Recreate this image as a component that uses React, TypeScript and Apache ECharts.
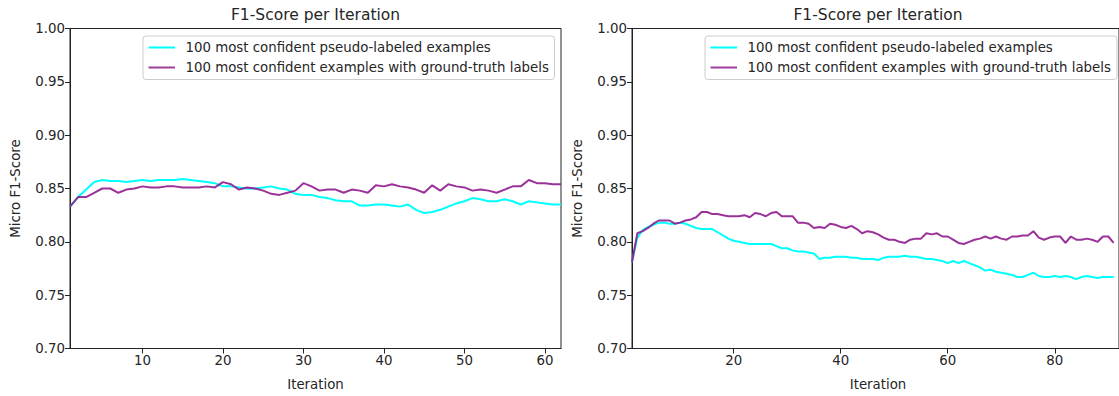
import React, { useEffect, useRef } from "react";
import * as echarts from "echarts";

const leftIterations = Array.from({ length: 62 }, (_, i) => i + 1);
const leftPseudo = [
  0.833, 0.842, 0.849, 0.856, 0.858, 0.857, 0.857, 0.856, 0.857, 0.858,
  0.857, 0.858, 0.858, 0.858, 0.859, 0.858, 0.857, 0.856, 0.855, 0.852,
  0.852, 0.851, 0.85, 0.85, 0.851, 0.852, 0.85, 0.849, 0.845, 0.844,
  0.844, 0.842, 0.841, 0.839, 0.838, 0.838, 0.834, 0.834, 0.835, 0.835,
  0.834, 0.833, 0.835, 0.83, 0.827, 0.828, 0.83, 0.833, 0.836, 0.838,
  0.841, 0.84, 0.838, 0.838, 0.84, 0.838, 0.835, 0.838, 0.837, 0.836,
  0.835, 0.835,
];
const leftGround = [
  0.833, 0.842, 0.842, 0.846, 0.85, 0.85, 0.846, 0.849, 0.85, 0.852,
  0.851, 0.851, 0.852, 0.852, 0.851, 0.851, 0.851, 0.852, 0.851, 0.856,
  0.854, 0.849, 0.851, 0.85, 0.848, 0.845, 0.844, 0.846, 0.848, 0.855,
  0.852, 0.848, 0.849, 0.849, 0.846, 0.849, 0.848, 0.846, 0.853, 0.852,
  0.854, 0.852, 0.851, 0.849, 0.846, 0.853, 0.848, 0.854, 0.852, 0.851,
  0.848, 0.849, 0.848, 0.846, 0.849, 0.852, 0.852, 0.858, 0.855, 0.855,
  0.854, 0.854,
];

const rightIterations = Array.from({ length: 91 }, (_, i) => i + 1);
const rightPseudo = [
  0.781, 0.804, 0.811, 0.814, 0.816, 0.818, 0.818, 0.817, 0.817, 0.818,
  0.817, 0.815, 0.813, 0.812, 0.812, 0.812, 0.809, 0.806, 0.803, 0.801,
  0.8, 0.799, 0.798, 0.798, 0.798, 0.798, 0.798, 0.796, 0.794, 0.794,
  0.792, 0.791, 0.791, 0.79, 0.789, 0.784, 0.785, 0.785, 0.786, 0.786,
  0.786, 0.785, 0.785, 0.784, 0.784, 0.784, 0.783, 0.785, 0.786, 0.786,
  0.786, 0.787, 0.786, 0.786, 0.785, 0.784, 0.784, 0.783, 0.782, 0.78,
  0.782, 0.78, 0.782, 0.78, 0.778, 0.776, 0.773, 0.774, 0.772, 0.771,
  0.77, 0.769, 0.767, 0.767, 0.769, 0.771, 0.768, 0.767, 0.767, 0.768,
  0.767, 0.768, 0.767, 0.765, 0.767, 0.768, 0.767, 0.766, 0.767, 0.767,
  0.767,
];
const rightGround = [
  0.781, 0.808, 0.81, 0.813, 0.817, 0.82, 0.82, 0.82, 0.817, 0.818,
  0.82, 0.821, 0.823, 0.828, 0.828, 0.826, 0.826, 0.825, 0.824, 0.824,
  0.824, 0.825, 0.823, 0.827, 0.826, 0.824, 0.827, 0.828, 0.824, 0.824,
  0.824, 0.818, 0.818, 0.817, 0.813, 0.814, 0.813, 0.817, 0.816, 0.814,
  0.813, 0.815, 0.812, 0.808, 0.81, 0.809, 0.807, 0.804, 0.802, 0.802,
  0.8, 0.799, 0.802, 0.803, 0.803, 0.808, 0.807, 0.808, 0.805, 0.805,
  0.802, 0.799, 0.798, 0.8, 0.802, 0.803, 0.805, 0.803, 0.805, 0.803,
  0.802, 0.805, 0.805, 0.806, 0.806, 0.81, 0.804, 0.802, 0.804, 0.805,
  0.805, 0.799, 0.805, 0.802, 0.802, 0.803, 0.802, 0.8, 0.805, 0.805,
  0.799,
];

const leftXTicks = [10, 20, 30, 40, 50, 60];
const rightXTicks = [20, 40, 60, 80];
const yTicks = [0.7, 0.75, 0.8, 0.85, 0.9, 0.95, 1.0];

const seriesNames = [
  "100 most confident pseudo-labeled examples",
  "100 most confident examples with ground-truth labels",
];
const chartTitle = "F1-Score per Iteration";
const xName = "Iteration";
const yName = "Micro F1-Score";

const CYAN = "#00ffff";
const PURPLE = "#8f1c8f";
const TXT = "#262626";
const FONT = "DejaVu Sans";
const FS = 13.33;

const GRID_TOP = 28.5;
const GRID_H = 320;
const LEFT_GRID = { left: 70, width: 491 };
const RIGHT_GRID = { left: 632, width: 492 };

function xAxisFor(gridIndex: number, max: number, ticks: number[]) {
  return {
    type: "value",
    gridIndex,
    min: 1,
    max,
    axisLine: { show: true, onZero: false, lineStyle: { color: "#222", width: 1 } },
    axisTick: { show: true, length: 5, customValues: ticks, lineStyle: { color: "#222" } },
    axisLabel: {
      customValues: ticks,
      color: TXT,
      fontFamily: FONT,
      fontSize: FS,
      fontWeight: "normal",
      margin: 5,
    },
    splitLine: { show: false },
  };
}

function yAxisFor(gridIndex: number) {
  return {
    type: "value",
    gridIndex,
    min: 0.7,
    max: 1.0,
    axisLine: { show: true, onZero: false, lineStyle: { color: "#222", width: 1 } },
    axisTick: { show: true, length: 5, customValues: yTicks, lineStyle: { color: "#222" } },
    axisLabel: {
      customValues: yTicks,
      formatter: (v: number) => v.toFixed(2),
      color: TXT,
      fontFamily: FONT,
      fontSize: FS,
      fontWeight: "normal",
      margin: 5,
    },
    splitLine: { show: false },
  };
}

function txtStyle(text: string, size: number, align: string) {
  return {
    text,
    fill: TXT,
    fontFamily: FONT,
    fontSize: size,
    fontWeight: "normal",
    align,
    verticalAlign: "middle",
    textAlign: align,
    textVerticalAlign: "middle",
  };
}

function legendGraphic(boxLeft: number, boxRight: number) {
  const top = 36;
  const h = 43.5;
  const row1 = 47.5;
  const row2 = 67.5;
  const hx1 = boxLeft + 5.5;
  const hx2 = hx1 + 26.5;
  const tx = hx2 + 10.5;
  return [
    {
      type: "rect",
      shape: { x: boxLeft, y: top, width: boxRight - boxLeft, height: h, r: 3 },
      style: { fill: "rgba(255,255,255,0.8)", stroke: "#cccccc", lineWidth: 1 },
      z: 100,
    },
    {
      type: "line",
      shape: { x1: hx1, y1: row1, x2: hx2, y2: row1 },
      style: { stroke: CYAN, lineWidth: 2 },
      z: 101,
    },
    {
      type: "line",
      shape: { x1: hx1, y1: row2, x2: hx2, y2: row2 },
      style: { stroke: PURPLE, lineWidth: 2, opacity: 0.85 },
      z: 101,
    },
    { type: "text", x: tx, y: row1, style: txtStyle(seriesNames[0], FS, "left"), z: 101 },
    { type: "text", x: tx, y: row2, style: txtStyle(seriesNames[1], FS, "left"), z: 101 },
  ];
}

function textAt(text: string, x: number, y: number, size: number, rotation = 0) {
  return {
    type: "text",
    x,
    y,
    rotation,
    style: txtStyle(text, size, "center"),
    z: 50,
  };
}

export default function App() {
  const ref = useRef<HTMLDivElement>(null);
  useEffect(() => {
    if (!ref.current) return;
    const chart = echarts.init(ref.current, undefined, { renderer: "svg" });
    const leftCenter = LEFT_GRID.left + LEFT_GRID.width / 2;
    const rightCenter = RIGHT_GRID.left + RIGHT_GRID.width / 2;
    const midY = GRID_TOP + GRID_H / 2;
    const option = {
      animation: false,
      backgroundColor: "#ffffff",
      grid: [
        {
          left: LEFT_GRID.left,
          top: GRID_TOP,
          width: LEFT_GRID.width,
          height: GRID_H,
          show: true,
          borderColor: "#222",
          borderWidth: 1,
          backgroundColor: "transparent",
        },
        {
          left: RIGHT_GRID.left,
          top: GRID_TOP,
          width: RIGHT_GRID.width,
          height: GRID_H,
          show: true,
          borderColor: "#222",
          borderWidth: 1,
          backgroundColor: "transparent",
        },
      ],
      xAxis: [xAxisFor(0, 62, leftXTicks), xAxisFor(1, 92, rightXTicks)],
      yAxis: [yAxisFor(0), yAxisFor(1)],
      series: [
        {
          name: seriesNames[0],
          type: "line",
          xAxisIndex: 0,
          yAxisIndex: 0,
          showSymbol: false,
          data: leftIterations.map((x, i) => [x, leftPseudo[i]]),
          lineStyle: { color: CYAN, width: 2 },
          itemStyle: { color: CYAN },
        },
        {
          name: seriesNames[1],
          type: "line",
          xAxisIndex: 0,
          yAxisIndex: 0,
          showSymbol: false,
          data: leftIterations.map((x, i) => [x, leftGround[i]]),
          lineStyle: { color: PURPLE, width: 2, opacity: 0.9 },
          itemStyle: { color: PURPLE },
        },
        {
          name: seriesNames[0],
          type: "line",
          xAxisIndex: 1,
          yAxisIndex: 1,
          showSymbol: false,
          data: rightIterations.map((x, i) => [x, rightPseudo[i]]),
          lineStyle: { color: CYAN, width: 2 },
          itemStyle: { color: CYAN },
        },
        {
          name: seriesNames[1],
          type: "line",
          xAxisIndex: 1,
          yAxisIndex: 1,
          showSymbol: false,
          data: rightIterations.map((x, i) => [x, rightGround[i]]),
          lineStyle: { color: PURPLE, width: 2, opacity: 0.9 },
          itemStyle: { color: PURPLE },
        },
      ],
      graphic: [
        textAt(chartTitle, leftCenter, 14.5, 15.5),
        textAt(chartTitle, rightCenter, 14.5, 15.5),
        textAt(xName, leftCenter, 384, FS),
        textAt(xName, rightCenter, 384, FS),
        textAt(yName, 15, midY, FS, Math.PI / 2),
        textAt(yName, 577, midY, FS, Math.PI / 2),
        ...legendGraphic(143, 554.5),
        ...legendGraphic(705, 1117),
      ],
    };
    chart.setOption(option as any);
    return () => chart.dispose();
  }, []);
  return (
    <div
      ref={ref}
      style={{ position: "absolute", left: 0, top: 0, width: 1119, height: 396 }}
    />
  );
}
